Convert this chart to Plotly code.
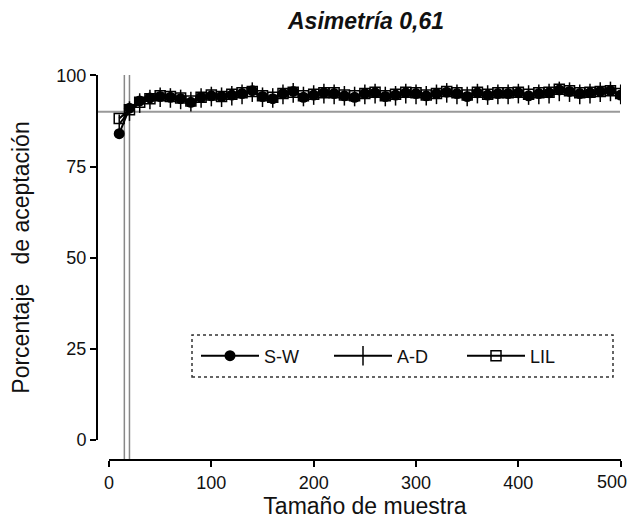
import plotly.graph_objects as go

# ---------- datos ----------
n_muestra = list(range(10, 501, 10))
sw = [84.0, 91.0, 93.0, 93.8, 94.2, 94.0, 93.6, 92.6, 94.0, 94.4,
      94.2, 94.6, 95.0, 95.8, 94.2, 93.6, 95.0, 95.6, 94.0, 94.6,
      95.2, 95.0, 94.4, 94.0, 95.0, 95.2, 94.2, 94.6, 95.2, 95.0,
      94.4, 95.0, 95.4, 95.0, 94.2, 95.2, 94.6, 95.0, 95.0, 95.2,
      94.4, 95.0, 95.2, 96.0, 95.6, 95.0, 95.2, 95.6, 95.8, 94.6]
ad = [86.6, 90.2, 92.4, 93.4, 94.0, 93.8, 93.4, 92.8, 93.8, 94.2,
      94.0, 94.4, 94.8, 95.4, 94.0, 93.8, 94.8, 95.2, 94.2, 94.6,
      95.0, 94.8, 94.4, 94.2, 94.8, 95.0, 94.2, 94.4, 95.0, 94.8,
      94.4, 94.8, 95.2, 94.8, 94.2, 95.0, 94.6, 94.8, 94.8, 95.0,
      94.6, 94.8, 95.0, 95.6, 95.4, 94.8, 95.0, 95.4, 95.6, 94.8]
lil = [88.2, 90.6, 92.6, 93.6, 94.4, 94.2, 93.8, 93.0, 94.0, 94.6,
       94.2, 94.8, 95.2, 95.6, 94.4, 94.0, 95.0, 95.4, 94.4, 94.8,
       95.2, 95.2, 94.6, 94.4, 95.0, 95.4, 94.4, 94.8, 95.4, 95.2,
       94.6, 95.0, 95.6, 95.2, 94.6, 95.4, 94.8, 95.2, 95.2, 95.4,
       94.8, 95.2, 95.4, 96.2, 95.8, 95.2, 95.4, 95.6, 95.8, 95.0]
ref_y = 90
ref_x = [15, 20]
xticks = [0, 100, 200, 300, 400, 500]
xtick_text = ['0', '100', '200', '300', '400', '']   # "500" va como anotacion para que no se corte
yticks = [0, 25, 50, 75, 100]

# la pagina deja 8 px de margen en el body
OX, OY = 8, 8
W, H = 621, 511
FONT = "Liberation Sans, Arial, sans-serif"

def px(x): return (x - OX) / W
def py(y): return 1 - (y - OY) / H

fig = go.Figure()
fig.add_trace(go.Scatter(x=n_muestra, y=sw, name='S-W', mode='lines+markers',
                         line=dict(color='black', width=2),
                         marker=dict(symbol='circle', size=11, color='black')))
fig.add_trace(go.Scatter(x=n_muestra, y=ad, name='A-D', mode='lines+markers',
                         line=dict(color='black', width=2),
                         marker=dict(symbol='line-ns', size=14, color='black',
                                     line=dict(color='black', width=1.5))))
fig.add_trace(go.Scatter(x=n_muestra, y=lil, name='LIL', mode='lines+markers',
                         line=dict(color='black', width=2),
                         marker=dict(symbol='square-open', size=10, color='black',
                                     line=dict(width=1.5))))

# lineas de referencia
fig.add_shape(type='line', xref='paper', yref='y', x0=px(97), x1=px(620), y0=ref_y, y1=ref_y,
              line=dict(color='#999999', width=2), layer='below')
for xv in ref_x:
    fig.add_shape(type='line', xref='x', yref='paper', x0=xv, x1=xv, y0=py(460), y1=py(75),
                  line=dict(color='#888888', width=1.5), layer='below')

# marco punteado de la leyenda
fig.add_shape(type='rect', xref='paper', yref='paper', x0=px(192), x1=px(613), y0=py(377), y1=py(335),
              line=dict(color='#333333', width=1.5, dash='dot'))

fig.add_annotation(text=str(xticks[-1]), xref='paper', yref='paper', x=1.0, xanchor='right',
                   y=py(482), yanchor='middle', showarrow=False, font=dict(size=18))

fig.update_layout(
    width=W, height=H, margin=dict(l=0, r=0, t=0, b=0, autoexpand=False),
    paper_bgcolor='white', plot_bgcolor='white',
    font=dict(family=FONT, size=18, color='#111111'),
    title=dict(text='<b><i>Asimetría 0,61</i></b>', x=px(366), xanchor='center',
               y=py(21), yanchor='middle', font=dict(size=23, color='#111111')),
    showlegend=True,
    legend=dict(orientation='h', x=px(196), xanchor='left', y=py(356), yanchor='middle',
                bgcolor='rgba(0,0,0,0)', borderwidth=0, font=dict(size=18),
                itemwidth=58, entrywidth=60, entrywidthmode='pixels'),
    xaxis=dict(domain=[px(109), px(621)], range=[0, 500.3], anchor='free', position=py(460),
               showline=True, linecolor='black', linewidth=2, showgrid=False, zeroline=False,
               ticks='outside', ticklen=6, tickwidth=2, tickcolor='black',
               tickvals=xticks, ticktext=xtick_text,
               title=dict(text='Tamaño de muestra', font=dict(size=23), standoff=11)),
    yaxis=dict(domain=[py(440), py(75)], range=[0, 100.1], anchor='free', position=px(97),
               showline=True, linecolor='black', linewidth=2, showgrid=False, zeroline=False,
               ticks='outside', ticklen=6, tickwidth=2, tickcolor='black', tickvals=yticks,
               title=dict(text='Porcentaje\u00a0\u00a0 de aceptación', font=dict(size=23), standoff=20)),
)

fig.write_html("out.html")
